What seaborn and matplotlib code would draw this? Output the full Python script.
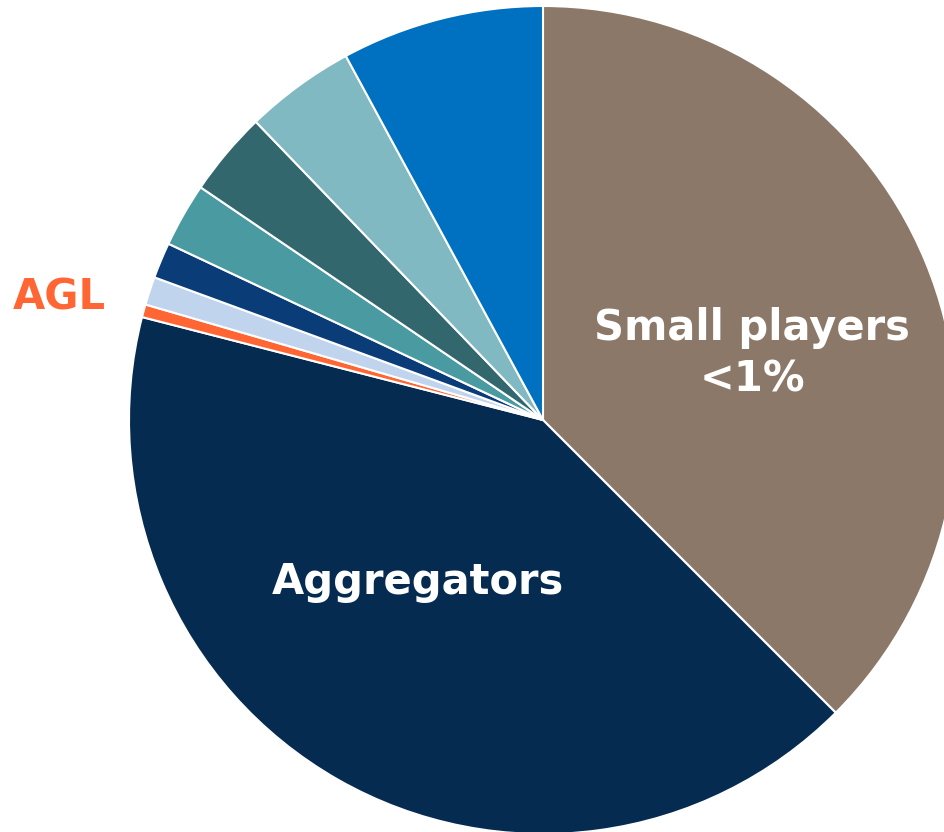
import matplotlib
matplotlib.use("Agg")
import matplotlib.pyplot as plt
import seaborn as sns

# market share segments, clockwise from 12 o'clock
segments = ["Small players <1%", "Aggregators", "AGL", "Other 1", "Other 2",
            "Other 3", "Other 4", "Other 5", "Other 6"]
shares = [37.5, 41.5, 0.5, 1.1, 1.4, 2.5, 3.3, 4.3, 7.9]
colours = ["#8B7868", "#062B50", "#FF6633", "#C0D4EE", "#0A3D78",
           "#4A9AA2", "#33676E", "#80B9C1", "#0070C0"]

sns.set_theme(style="white")
plt.rcParams['font.family'] = ['DejaVu Sans']

fig = plt.figure(figsize=(9.44, 8.32), dpi=100)
ax = fig.add_axes([0, 0, 1, 1])

cx, cy, r = 543, 412, 414
ax.pie(shares, colors=colours, startangle=90, counterclock=False,
       center=(cx, cy), radius=r,
       wedgeprops=dict(edgecolor="white", linewidth=1.5))
ax.set_xlim(0, 944)
ax.set_ylim(0, 832)
ax.set_aspect("equal")
ax.axis("off")

ax.text(752, 478, "Small players\n<1%", color="white", fontsize=30,
        fontweight="bold", ha="center", va="center", linespacing=1.3)
ax.text(418, 250, "Aggregators", color="white", fontsize=30,
        fontweight="bold", ha="center", va="center")
ax.text(59, 534, "AGL", color="#FF6633", fontsize=30,
        fontweight="bold", ha="center", va="center")

fig.savefig("out.png", dpi=100, facecolor="white")
